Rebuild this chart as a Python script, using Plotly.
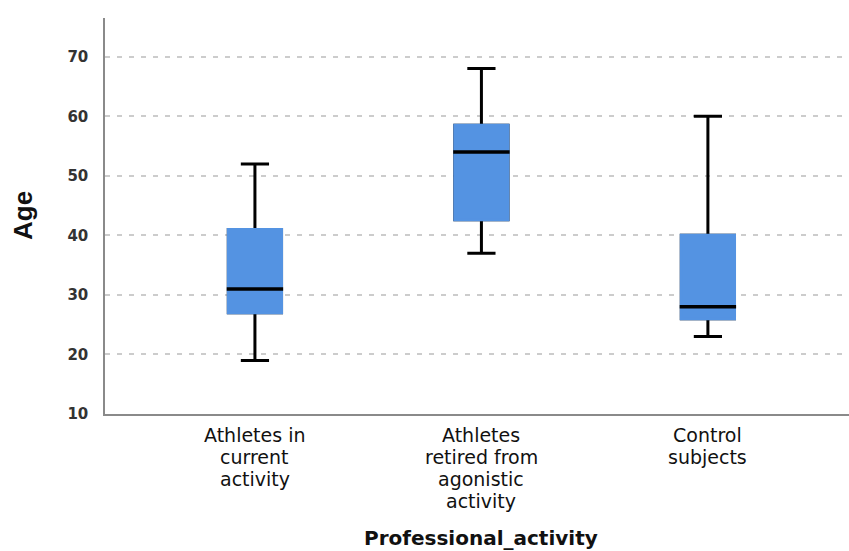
import plotly.graph_objects as go

# Age distribution by professional activity (summary statistics per group)
categories = [
    "Athletes in\ncurrent\nactivity",
    "Athletes\nretired from\nagonistic\nactivity",
    "Control\nsubjects",
]
lower_whisker = [19, 37, 23]
q1 = [27, 42.6, 26]
median = [31, 54, 28]
q3 = [41, 58.5, 40]
upper_whisker = [52, 68, 60]

y_ticks = [10, 20, 30, 40, 50, 60, 70]
y_range = [10, 76.5]

BOX_BLUE = "#5493E2"
BOX_WIDTH = 0.235
LINE_W = 3

positions = list(range(len(categories)))

fig = go.Figure()

# whiskers and caps (black)
fig.add_trace(go.Box(
    x=positions, q1=q1, median=median, q3=q3,
    lowerfence=lower_whisker, upperfence=upper_whisker,
    width=BOX_WIDTH, whiskerwidth=0.53,
    fillcolor=BOX_BLUE, line=dict(color="black", width=LINE_W),
    boxpoints=False, hoverinfo="skip", showlegend=False,
))

# solid blue interquartile box without dark outline
fig.add_trace(go.Box(
    x=positions, q1=q1, median=median, q3=q3,
    lowerfence=q1, upperfence=q3,
    width=BOX_WIDTH, whiskerwidth=0,
    fillcolor=BOX_BLUE, line=dict(color=BOX_BLUE, width=LINE_W),
    boxpoints=False, hoverinfo="skip", showlegend=False,
))

# median bars on top of the boxes
half = BOX_WIDTH / 2 + 0.007
mx, my = [], []
for p, m in zip(positions, median):
    mx += [p - half, p + half, None]
    my += [m, m, None]
fig.add_trace(go.Scatter(
    x=mx, y=my, mode="lines",
    line=dict(color="black", width=3.5),
    hoverinfo="skip", showlegend=False,
))

# multi-line category labels with tight line spacing
LINE_GAP = 22
FIRST_LINE = 21
annotations = []
for p, label in zip(positions, categories):
    for k, line in enumerate(label.split("\n")):
        annotations.append(dict(
            x=p, xref="x", y=0, yref="paper",
            yanchor="middle", xanchor="center",
            yshift=-(FIRST_LINE + k * LINE_GAP),
            text=line, showarrow=False,
            font=dict(family="DejaVu Sans", size=19, color="#111111"),
        ))

annotations.append(dict(
    x=1, xref="x", y=0, yref="paper",
    yanchor="middle", xanchor="center", yshift=-124,
    text="Professional_activity", showarrow=False,
    font=dict(family="DejaVu Sans", size=20, color="#111111", weight="bold"),
))
annotations.append(dict(
    x=0, xref="paper", y=0.5, yref="paper",
    xanchor="center", yanchor="middle", xshift=-82,
    text="Age", textangle=-90, showarrow=False,
    font=dict(family="Liberation Sans Narrow, Liberation Sans", size=26,
              color="#111111", weight="bold"),
))

fig.update_layout(
    width=849, height=551,
    margin=dict(l=105, r=0, t=18, b=137),
    paper_bgcolor="white", plot_bgcolor="white",
    boxmode="overlay",
    annotations=annotations,
    xaxis=dict(
        range=[-0.662, 2.623],
        showticklabels=False, showgrid=False, zeroline=False,
        showline=True, linecolor="#8a8a8a", linewidth=1.5,
        ticks="", fixedrange=True,
    ),
    yaxis=dict(
        range=y_range, tickvals=y_ticks,
        ticks="", ticklabelstandoff=12,
        tickfont=dict(family="DejaVu Sans", size=15, color="#333333", weight="bold"),
        showgrid=True, gridcolor="#cccccc", gridwidth=1.5, griddash="5px,7px",
        zeroline=False,
        showline=True, linecolor="#8a8a8a", linewidth=1.5,
        fixedrange=True,
    ),
)

fig.write_html("out.html")
